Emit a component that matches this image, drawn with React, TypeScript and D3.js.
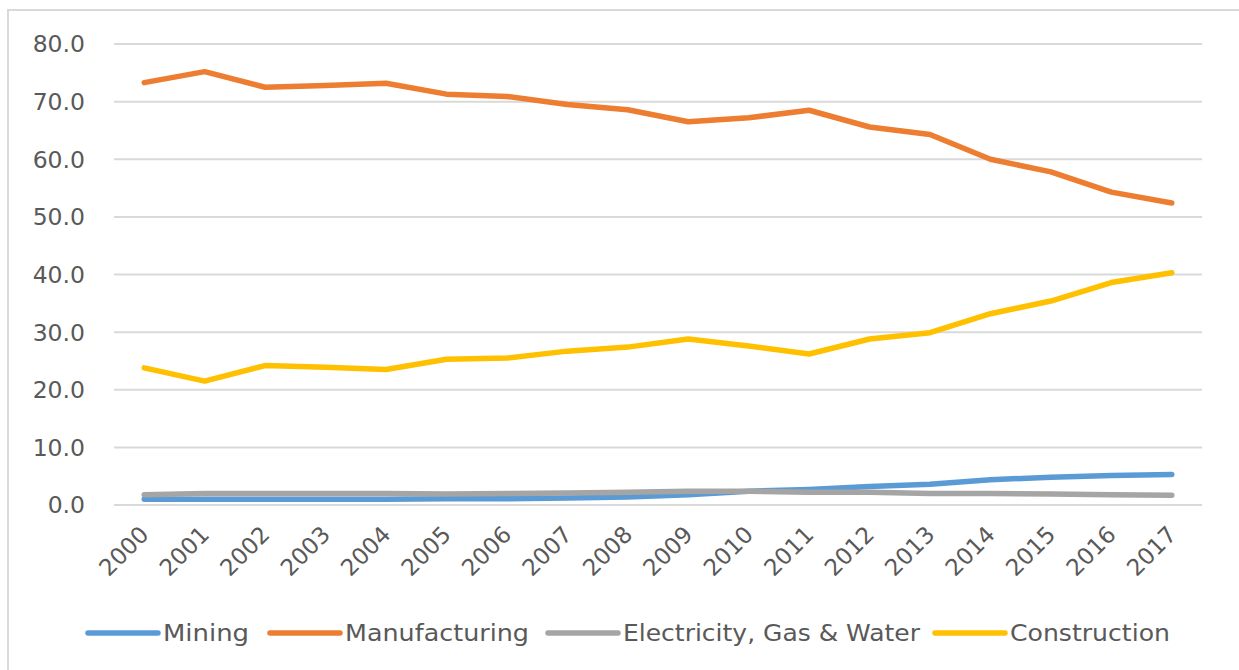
import React, { useRef, useEffect } from 'react';
import * as d3 from 'd3';

const years = ['2000', '2001', '2002', '2003', '2004', '2005', '2006', '2007', '2008', '2009', '2010', '2011', '2012', '2013', '2014', '2015', '2016', '2017'];
const mining = [1.0, 1.0, 1.0, 1.0, 1.0, 1.1, 1.1, 1.2, 1.4, 1.8, 2.4, 2.7, 3.2, 3.6, 4.4, 4.8, 5.1, 5.3];
const manufacturing = [73.3, 75.2, 72.5, 72.8, 73.2, 71.3, 70.9, 69.5, 68.6, 66.5, 67.2, 68.5, 65.6, 64.3, 60.0, 57.8, 54.3, 52.4];
const electricity = [1.8, 2.0, 2.0, 2.0, 2.0, 1.9, 2.0, 2.1, 2.2, 2.4, 2.4, 2.2, 2.2, 2.0, 2.0, 1.9, 1.8, 1.7];
const construction = [23.8, 21.5, 24.2, 23.9, 23.5, 25.3, 25.5, 26.7, 27.4, 28.8, 27.6, 26.2, 28.8, 29.9, 33.2, 35.4, 38.6, 40.3];
const yTicks = [0, 10, 20, 30, 40, 50, 60, 70, 80];

const seriesNames = ['Mining', 'Manufacturing', 'Electricity, Gas & Water', 'Construction'];
const seriesValues = [mining, manufacturing, electricity, construction];
const colors = ['#5b9bd5', '#ed7d31', '#a5a5a5', '#ffc000'];

const width = 1239;
const height = 670;

function LineChart() {
  const ref = useRef<SVGSVGElement>(null);

  useEffect(() => {
    const svg = d3.select(ref.current);
    svg.selectAll('*').remove();

    const left = 114, right = 1202, top = 44, bottom = 505;
    const font = 'DejaVu Sans, Verdana, sans-serif';
    const textColor = '#595959';

    // chart border
    svg.append('rect')
      .attr('x', 8).attr('y', 10)
      .attr('width', 1260).attr('height', 700)
      .attr('fill', 'white')
      .attr('stroke', '#d9d9d9')
      .attr('stroke-width', 2);

    const x = d3.scaleBand().domain(years).range([left, right]);
    const y = d3.scaleLinear().domain([0, 80]).range([bottom, top]);
    const cx = (d: string) => (x(d) as number) + x.bandwidth() / 2;

    // gridlines
    svg.append('g').selectAll('line')
      .data(yTicks)
      .enter()
      .append('line')
      .attr('x1', left).attr('x2', right)
      .attr('y1', d => y(d)).attr('y2', d => y(d))
      .attr('stroke', '#d9d9d9')
      .attr('stroke-width', 2);

    // y labels
    svg.append('g').selectAll('text')
      .data(yTicks)
      .enter()
      .append('text')
      .attr('x', 85)
      .attr('y', d => y(d))
      .attr('dy', '0.36em')
      .attr('text-anchor', 'end')
      .style('font-family', font)
      .style('font-size', '23.5px')
      .attr('fill', textColor)
      .text(d => d.toFixed(1));

    // x labels
    svg.append('g').selectAll('text')
      .data(years)
      .enter()
      .append('text')
      .attr('transform', d => `translate(${cx(d) + 6},${bottom + 31}) rotate(-45)`)
      .attr('text-anchor', 'end')
      .style('font-family', font)
      .style('font-size', '23px')
      .attr('fill', textColor)
      .text(d => d);

    // lines
    const line = d3.line<number>()
      .x((d, i) => cx(years[i]))
      .y(d => y(d));

    seriesValues.forEach((vals, i) => {
      svg.append('path')
        .attr('d', line(vals))
        .attr('fill', 'none')
        .attr('stroke', colors[i])
        .attr('stroke-width', 5.5)
        .attr('stroke-linecap', 'round')
        .attr('stroke-linejoin', 'round');
    });

    // legend
    const legendX = [88, 270, 548, 935];
    const legendW = [86, 184, 297, 160];
    const ly = 633;
    const lg = svg.append('g');
    seriesNames.forEach((name, i) => {
      lg.append('line')
        .attr('x1', legendX[i]).attr('x2', legendX[i] + 70)
        .attr('y1', ly).attr('y2', ly)
        .attr('stroke', colors[i])
        .attr('stroke-width', 5.5)
        .attr('stroke-linecap', 'round');
      lg.append('text')
        .attr('x', legendX[i] + 75)
        .attr('y', ly)
        .attr('dy', '0.36em')
        .attr('textLength', legendW[i])
        .attr('lengthAdjust', 'spacingAndGlyphs')
        .style('font-family', font)
        .style('font-size', '23px')
        .attr('fill', textColor)
        .text(name);
    });
  }, []);

  return <svg ref={ref} width={width} height={height} style={{ display: 'block' }}></svg>;
}

export default function App() {
  return (
    <div style={{ position: 'absolute', left: 0, top: 0 }}>
      <LineChart />
    </div>
  );
}
